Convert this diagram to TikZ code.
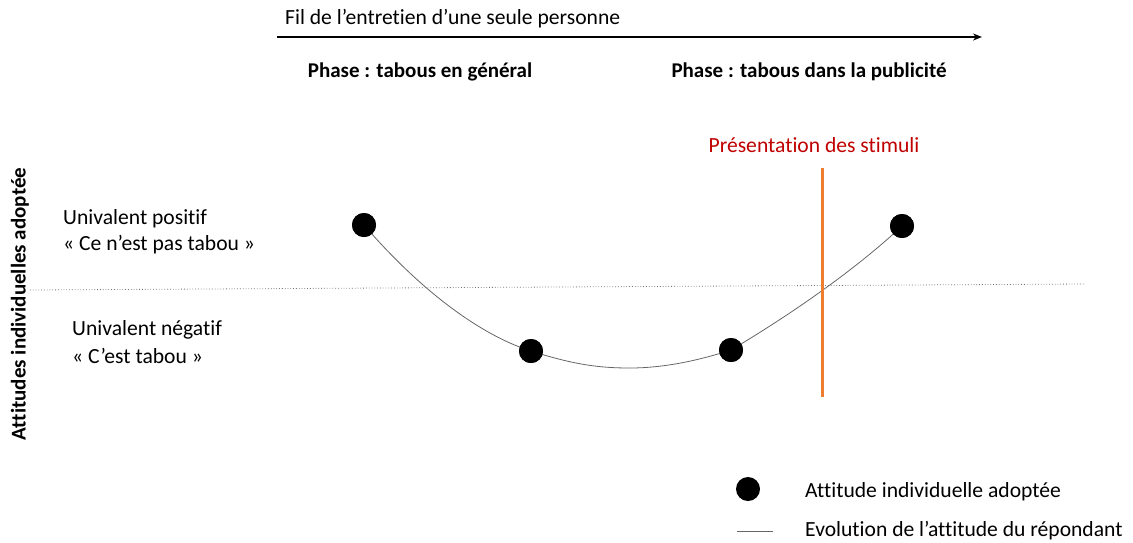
\documentclass[tikz,border=0pt]{standalone}
\usepackage{fontspec}
\setmainfont{Carlito}[RawFeature={-liga}]
\usetikzlibrary{arrows.meta}
\definecolor{stimred}{HTML}{C00000}
\definecolor{stimorange}{HTML}{ED7D31}
\begin{document}
\begin{tikzpicture}[x=1pt,y=-1pt,
  lbl/.style={inner sep=0pt,font=\fontsize{21.6}{24}\selectfont},
  blbl/.style={inner sep=0pt,font=\fontsize{21}{24}\selectfont\bfseries},
  dot/.style={circle,fill=black,minimum size=24pt,inner sep=0pt},
  evol/.style={draw=black!60,line width=0.8pt}]
\useasboundingbox (0,0) rectangle (1133,542);
% timeline arrow
\coordinate (t0) at (277,37);
\coordinate (t1) at (982,37);
\draw[line width=1.8pt,-{Stealth[length=9pt,width=7pt]}] (t0) -- (t1);
\node[lbl,anchor=west] (fil) at (285,19) {Fil de l’entretien d’une seule personne};
\node[blbl] (ph1) at (420,72) {Phase : tabous en général};
\node[blbl] (ph2) at (809,72) {Phase : tabous dans la publicité};
% stimuli
\node[lbl,text=stimred] (stim) at (814,145) {Présentation des stimuli};
\coordinate (s0) at (822,168);
\coordinate (s1) at (822,397);
% y label
\node[blbl,rotate=90] (yl) at (20,304) {Attitudes individuelles adoptée};
\node[lbl,anchor=west] (up1) at (63,219) {Univalent positif};
\node[lbl,anchor=west] (up2) at (63,245) {« Ce n’est pas tabou »};
\node[lbl,anchor=west] (un1) at (72,330) {Univalent négatif};
\node[lbl,anchor=west] (un2) at (72,356) {« C’est tabou »};
% dotted midline
\coordinate (m0) at (30,290);
\coordinate (m1) at (1085,284);
\draw[black!55,dotted,line width=0.8pt] (m0) -- (m1);
% dots
\node[dot] (d1) at (364,225) {};
\node[dot] (d2) at (531,351) {};
\node[dot] (d3) at (731,350) {};
\node[dot] (d4) at (902,226) {};
\coordinate (bot) at (630,368);
% curve
\draw[evol] (d1.center) .. controls (420,290) and (480,335) .. (d2.center)
  .. controls (575,365) and (600,368) .. (bot)
  .. controls (665,368) and (700,360) .. (d3.center)
  .. controls (790,315) and (855,270) .. (d4.center);
\draw[stimorange,line width=3pt] (s0) -- (s1);
\node[dot] at (d1) {};
\node[dot] at (d2) {};
\node[dot] at (d3) {};
\node[dot] at (d4) {};
% legend
\node[dot] (ld) at (748,489) {};
\node[lbl,anchor=west] (lt1) at (805,492) {Attitude individuelle adoptée};
\coordinate (ll0) at (737,531);
\coordinate (ll1) at (773,531);
\draw[evol] (ll0) -- (ll1);
\node[lbl,anchor=west] (lt2) at (805,531) {Evolution de l’attitude du répondant};
\end{tikzpicture}
\end{document}
